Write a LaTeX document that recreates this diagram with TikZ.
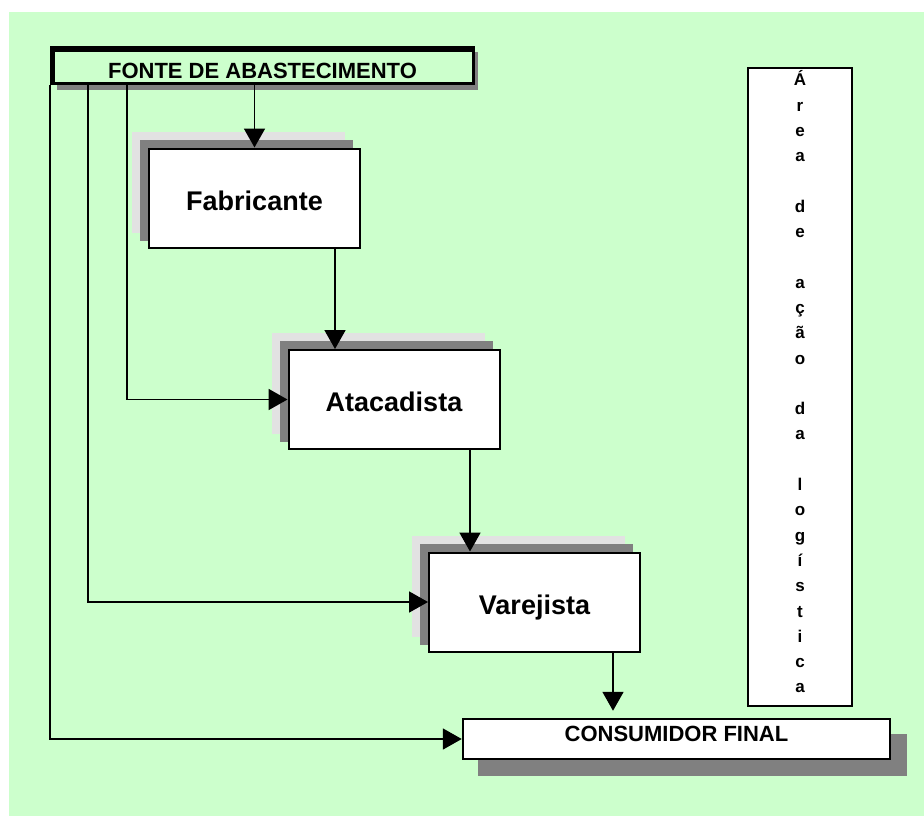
\documentclass[tikz,border=0pt]{standalone}
\usepackage{fontspec}
\setmainfont{Liberation Sans}
\usetikzlibrary{arrows.meta,calc}

\pgfdeclarelayer{page}
\pgfdeclarelayer{shade}
\pgfsetlayers{page,shade,main}

\definecolor{paper}{HTML}{CCFFCC}
\definecolor{shadelight}{HTML}{E2E2E2}
\definecolor{shadedark}{HTML}{808080}

\tikzset{
  stage/.style={draw=black, line width=2pt, fill=white, inner sep=0pt,
    minimum width=211pt, minimum height=99pt, text height=24pt, text depth=0pt,
    font=\fontsize{27}{30}\selectfont\bfseries},
  banner/.style={inner sep=0pt, font=\fontsize{22}{26}\selectfont\bfseries},
  flow/.style={line width=1.9pt, -{Triangle[width=21pt,length=19pt]}},
  feed/.style={flow},
}

\begin{document}
\begin{tikzpicture}[x=1pt,y=-1pt]
  \useasboundingbox (0,0) rectangle (924,816);
  \begin{pgfonlayer}{page}
    \fill[white] (0,0) rectangle (924,816);
    \fill[paper] (9,12) rectangle (924,816);
  \end{pgfonlayer}

  % supply source banner
  \node[banner, minimum width=425pt, minimum height=39pt,
        text height=26pt, text depth=0pt] (src) at (262.5,65.5) {FONTE DE ABASTECIMENTO};

  % chain stages
  \node[stage] (fab) at (254.5,198)   {Fabricante};
  \node[stage] (ata) at (394,399.5)   {Atacadista};
  \node[stage] (var) at (534.5,602)   {Varejista};

  % final consumer
  \node[banner, draw=black, line width=2.5pt, fill=white,
        minimum width=427pt, minimum height=40pt,
        text height=16pt, text depth=12pt] (con) at (676.5,739) {CONSUMIDOR FINAL};

  % logistics area column
  \node[draw=black, line width=2pt, fill=white, inner sep=0pt,
        minimum width=104pt, minimum height=638pt] (area) at (800,387) {};
  \node[anchor=north, inner sep=0pt, align=center,
        font=\fontsize{17}{25.3}\selectfont\bfseries] (arealetters) at (800,70.5)
    {Á\\r\\e\\a\\\mbox{}\\d\\e\\\mbox{}\\a\\ç\\ã\\o\\\mbox{}\\d\\a\\\mbox{}\\l\\o\\g\\í\\s\\t\\i\\c\\a};

  % frames and shadows
  \begin{pgfonlayer}{shade}
    \fill[shadedark] ($(src.north west)+(7,6)$) rectangle ($(src.south east)+(3,5)$);
    \fill[black] (src.north west) rectangle (src.south east);
    \fill[paper] ($(src.north west)+(5,6)$) rectangle ($(src.south east)+(-3,-3)$);
    \foreach \n in {fab,ata,var}{
      \fill[shadelight] ($(\n.north west)+(-16,-16)$) rectangle ($(\n.south east)+(-16,-16)$);
      \fill[shadedark]  ($(\n.north west)+(-8,-8)$)  rectangle ($(\n.south east)+(-8,-8)$);
    }
    \fill[shadedark] ($(con.north west)+(16,16)$) rectangle ($(con.south east)+(16,16)$);
  \end{pgfonlayer}

  % main flow
  \draw[flow] (fab.north |- src.south) -- (fab.north);
  \draw[flow] ([xshift=80.5pt]fab.south) -- ([xshift=80.5pt]fab.south |- ata.north);
  \draw[flow] ([xshift=76pt]ata.south) -- ([xshift=76pt]ata.south |- var.north);
  \draw[flow, shorten >=7pt] ([xshift=78.5pt]var.south) -- ([xshift=78.5pt]var.south |- con.north);

  % direct supply lines
  \draw[feed] ([xshift=77pt]src.south west) |- (ata.west);
  \draw[feed] ([xshift=38pt]src.south west) |- (var.west);
  \draw[feed] (src.south west) |- (con.west);
\end{tikzpicture}
\end{document}
